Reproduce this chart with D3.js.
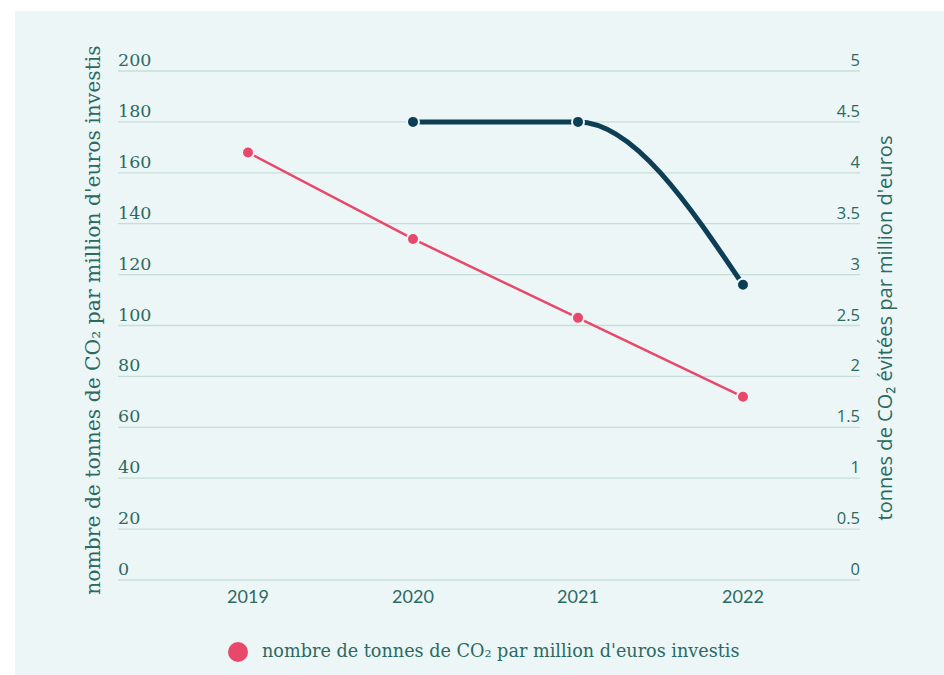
<!DOCTYPE html>
<html><head><meta charset="utf-8">
<script src="https://cdn.jsdelivr.net/npm/d3@7"></script>
<style>
html,body{margin:0;padding:0;background:#fff;}
svg{display:block;}
</style></head>
<body>
<script>
// ---- data ----
const years = ["2019", "2020", "2021", "2022"];
const co2PerMillion = [168, 134, 103, 72];          // left axis (pink)
const co2Avoided = [null, 4.5, 4.5, 2.9];           // right axis (dark)
const leftTicks = [0, 20, 40, 60, 80, 100, 120, 140, 160, 180, 200];
const rightTicks = [0, 0.5, 1, 1.5, 2, 2.5, 3, 3.5, 4, 4.5, 5];
const leftTitle = "nombre de tonnes de CO₂ par million d'euros investis";
const rightTitle = "tonnes de CO₂ évitées par million d'euros";
const legendLabel = "nombre de tonnes de CO₂ par million d'euros investis";

// ---- layout ----
const W = 944, H = 675;
const plotL = 118, plotR = 860, plotT = 71, plotB = 580;
const bg = "#edf6f7", grid = "#c6ded9", txt = "#2b6a5f";
const pink = "#e8496b", dark = "#0c3f56";

const svg = d3.select("body").append("svg").attr("width", W).attr("height", H);
svg.append("rect").attr("x", 15).attr("y", 11).attr("width", W - 15).attr("height", H - 11).attr("fill", bg);

const x = d3.scalePoint().domain(years).range([plotL + 130, plotR - 117]);
const yL = d3.scaleLinear().domain([0, 200]).range([plotB, plotT]);
const yR = d3.scaleLinear().domain([0, 5]).range([plotB, plotT]);

// gridlines + left tick labels
const gL = svg.append("g");
gL.selectAll("line").data(leftTicks).join("line")
  .attr("x1", plotL).attr("x2", plotR)
  .attr("y1", d => yL(d)).attr("y2", d => yL(d))
  .attr("stroke", grid).attr("stroke-width", 1.3);
gL.selectAll("text").data(leftTicks).join("text")
  .attr("x", plotL).attr("y", d => yL(d) - 5)
  .attr("font-family", "DejaVu Serif").attr("font-size", 17.5).attr("fill", txt)
  .text(d => d);

// right tick labels
svg.append("g").selectAll("text").data(rightTicks).join("text")
  .attr("x", plotR).attr("y", d => yR(d) - 5).attr("text-anchor", "end")
  .attr("font-family", "Open Sans").attr("font-size", 16.5).attr("fill", txt)
  .text(d => d);

// x labels
svg.append("g").selectAll("text").data(years).join("text")
  .attr("x", d => x(d)).attr("y", 603).attr("text-anchor", "middle")
  .attr("font-family", "Lato").attr("font-size", 18).attr("fill", txt)
  .text(d => d);

// axis titles
function fitText(sel, target) {
  const len = sel.node().getComputedTextLength();
  const fs = parseFloat(sel.attr("font-size"));
  sel.attr("font-size", fs * target / len);
}
const lt = svg.append("text")
  .attr("transform", "translate(100,320) rotate(-90)")
  .attr("text-anchor", "middle")
  .attr("font-family", "DejaVu Serif").attr("font-size", 18).attr("fill", txt)
  .text(leftTitle);
fitText(lt, 550);
const rt = svg.append("text")
  .attr("transform", "translate(892,328) rotate(-90)")
  .attr("text-anchor", "middle")
  .attr("font-family", "Open Sans").attr("font-size", 16).attr("fill", txt)
  .text(rightTitle);
fitText(rt, 385);

// pink series
const pinkData = years.map((y, i) => ({ y, v: co2PerMillion[i] }));
svg.append("path").datum(pinkData)
  .attr("d", d3.line().x(d => x(d.y)).y(d => yL(d.v)))
  .attr("fill", "none").attr("stroke", pink).attr("stroke-width", 2.5);
svg.append("g").selectAll("circle").data(pinkData).join("circle")
  .attr("cx", d => x(d.y)).attr("cy", d => yL(d.v)).attr("r", 6)
  .attr("fill", pink).attr("stroke", bg).attr("stroke-width", 2);

// dark series
const darkData = years.map((y, i) => ({ y, v: co2Avoided[i] })).filter(d => d.v != null);
svg.append("path").datum(darkData)
  .attr("d", d3.line().curve(d3.curveMonotoneX).x(d => x(d.y)).y(d => yR(d.v)))
  .attr("fill", "none").attr("stroke", dark).attr("stroke-width", 5);
svg.append("g").selectAll("circle").data(darkData).join("circle")
  .attr("cx", d => x(d.y)).attr("cy", d => yR(d.v)).attr("r", 6)
  .attr("fill", dark).attr("stroke", bg).attr("stroke-width", 2);

// legend
svg.append("circle").attr("cx", 238).attr("cy", 652).attr("r", 10).attr("fill", pink);
const lg = svg.append("text").attr("x", 262).attr("y", 657)
  .attr("font-family", "DejaVu Serif").attr("font-size", 16).attr("fill", txt)
  .text(legendLabel);
fitText(lg, 478);
</script>
</body></html>
